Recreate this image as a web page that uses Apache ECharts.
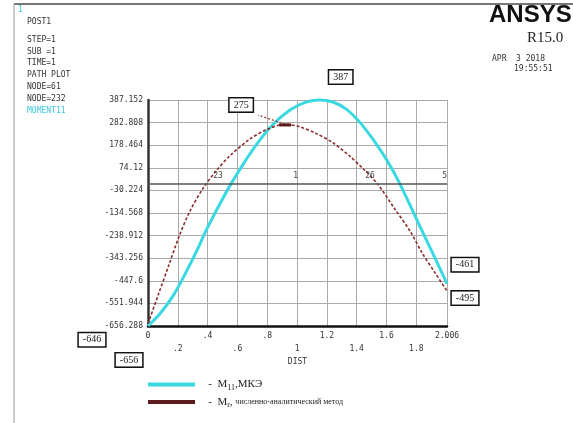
<!DOCTYPE html>
<html>
<head>
<meta charset="utf-8">
<script src="https://cdn.jsdelivr.net/npm/echarts@6/dist/echarts.min.js"></script>
<style>
  html, body { margin: 0; padding: 0; background: #fff; }
  #main { width: 573px; height: 423px; }
</style>
</head>
<body>
<div id="main"></div>
<script>
// M11, МКЭ (cyan)
var distMke = [0, 0.08, 0.17, 0.25, 0.33, 0.39, 0.48, 0.57, 0.70, 0.83, 0.95, 1.06, 1.15, 1.24, 1.33, 1.42, 1.51, 1.60, 1.69, 1.82, 1.91, 2.006];
var momMke = [-656, -600, -515, -415, -305, -215, -95, 15, 155, 268, 340, 377, 387, 378, 345, 285, 205, 112, 0, -190, -320, -461];

// Mr, численно-аналитический метод (brown)
var distAnal = [0, 0.07, 0.14, 0.21, 0.28, 0.37, 0.46, 0.55, 0.68, 0.80, 0.92, 1.02, 1.13, 1.24, 1.35, 1.45, 1.54, 1.65, 1.76, 1.84, 1.93, 2.006];
var momAnal = [-646, -510, -375, -240, -128, -20, 62, 130, 205, 252, 275, 263, 232, 190, 130, 65, 0, -110, -220, -320, -415, -495];

var yTicks = [-656.288, -551.944, -447.6, -343.256, -238.912, -134.568, -30.224, 74.12, 178.464, 282.808, 387.152];
var yTickLabels = ['-656.288', '-551.944', '-447.6', '-343.256', '-238.912', '-134.568', '-30.224', '74.12', '178.464', '282.808', '387.152'];
var xTicks = [0, 0.2, 0.4, 0.6, 0.8, 1.0, 1.2, 1.4, 1.6, 1.8, 2.006];
var xTickLabels = ['0', '.2', '.4', '.6', '.8', '1', '1.2', '1.4', '1.6', '1.8', '2.006'];

// path node numbers along the zero line
var nodeDist = [0.47, 0.99, 1.49, 1.99];
var nodeNames = ['23', '1', '26', '5'];

var infoLines = ['STEP=1', 'SUB =1', 'TIME=1', 'PATH PLOT', 'NODE=61', 'NODE=232'];

var mono = '"DejaVu Sans Mono", monospace';
var serif = '"Liberation Serif", "DejaVu Serif", serif';

var myChart = echarts.init(document.getElementById('main'));

function zip(xs, ys) {
  return xs.map(function (x, i) { return [x, ys[i]]; });
}

var boxLabel = {
  show: true,
  position: 'inside',
  formatter: '{b}',
  color: '#222',
  fontFamily: serif,
  fontSize: 10,
  backgroundColor: '#fff',
  borderColor: '#111',
  borderWidth: 1.5,
  padding: [2, 4, 1, 4]
};

function box(coord, text, off) {
  return {
    name: text,
    coord: coord,
    symbol: 'circle',
    symbolSize: 0,
    label: Object.assign({}, boxLabel, { offset: off })
  };
}

var graphics = [
  { type: 'line', shape: { x1: 14, y1: 4, x2: 573, y2: 4 }, style: { stroke: '#777', lineWidth: 2 } },
  { type: 'line', shape: { x1: 14, y1: 4, x2: 14, y2: 423 }, style: { stroke: '#999', lineWidth: 1 } },
  { type: 'text', left: 18, top: 6, style: { text: '1', fill: '#3cc8e0', font: '8px ' + mono } },
  { type: 'text', left: 27, top: 18, style: { text: 'POST1', fill: '#333', font: '8px ' + mono } },
  { type: 'text', left: 489, top: 3, style: { text: 'ANSYS', fill: '#111', font: 'bold 24px "Liberation Sans", Arial, sans-serif' } },
  { type: 'text', left: 527, top: 31, style: { text: 'R15.0', fill: '#222', font: '15px ' + serif } },
  { type: 'text', left: 492, top: 55, style: { text: 'APR  3 2018', fill: '#333', font: '8px ' + mono } },
  { type: 'text', left: 514, top: 65, style: { text: '19:55:51', fill: '#333', font: '8px ' + mono } },
  { type: 'text', left: 27, top: 107, style: { text: 'MOMENT11', fill: '#3cc8e0', font: '8px ' + mono } }
];
infoLines.forEach(function (t, i) {
  graphics.push({ type: 'text', left: 27, top: 36 + i * 11.7, style: { text: t, fill: '#333', font: '8px ' + mono } });
});

var nodePoints = nodeDist.map(function (d, i) {
  return {
    name: nodeNames[i],
    coord: [d, 0],
    symbol: 'circle',
    symbolSize: 0,
    label: { show: true, position: 'inside', formatter: '{b}', offset: [0, -8], color: '#444', fontFamily: mono, fontSize: 8 }
  };
});

var option = {
  animation: false,
  backgroundColor: '#fff',
  graphic: graphics,
  grid: { left: 148, right: 126, top: 100, bottom: 97, containLabel: false },
  legend: {
    left: 143,
    top: 374,
    orient: 'vertical',
    icon: 'rect',
    itemWidth: 47,
    itemHeight: 4,
    itemGap: 5,
    selectedMode: false,
    data: ['M11,МКЭ', 'Mr, численно-аналитический метод'],
    formatter: function (name) {
      if (name === 'M11,МКЭ') return '{d|   -  }{n|M}{s|11}{n|,МКЭ}';
      return '{d|   -  }{n|M}{s|r}{n|, }{t|численно-аналитический метод}';
    },
    textStyle: {
      color: '#222',
      rich: {
        d: { fontFamily: serif, fontSize: 11, color: '#222' },
        n: { fontFamily: serif, fontSize: 11, color: '#222', lineHeight: 14 },
        s: { fontFamily: serif, fontSize: 8, color: '#222', verticalAlign: 'bottom', padding: [6, 0, 0, 0] },
        t: { fontFamily: serif, fontSize: 8, color: '#222' }
      }
    }
  },
  xAxis: {
    type: 'value',
    min: 0,
    max: 2.006,
    name: 'DIST',
    nameLocation: 'middle',
    nameGap: 30,
    nameTextStyle: { fontFamily: mono, fontSize: 8, color: '#333' },
    axisLine: { show: true, onZero: false, lineStyle: { color: '#111', width: 2.5 } },
    axisTick: { show: false, customValues: xTicks },
    axisLabel: {
      customValues: xTicks,
      margin: 6,
      formatter: function (v) {
        var i = xTicks.indexOf(v);
        var lab = i >= 0 ? xTickLabels[i] : '';
        return i % 2 === 0 ? '{a|' + lab + '}' : '{b|' + lab + '}';
      },
      rich: {
        a: { fontFamily: mono, fontSize: 8, color: '#333' },
        b: { fontFamily: mono, fontSize: 8, color: '#333', padding: [13, 0, 0, 0] }
      }
    },
    splitLine: { show: true, lineStyle: { color: '#aaa', width: 1 } }
  },
  yAxis: {
    type: 'value',
    min: -656.288,
    max: 387.152,
    axisLine: { show: true, onZero: false, lineStyle: { color: '#333', width: 2.5 } },
    axisTick: { show: false, customValues: yTicks },
    axisLabel: {
      customValues: yTicks,
      margin: 5,
      fontFamily: mono,
      fontSize: 8,
      color: '#333',
      formatter: function (v) {
        var i = yTicks.indexOf(v);
        return i >= 0 ? yTickLabels[i] : '';
      }
    },
    splitLine: { show: true, lineStyle: { color: '#aaa', width: 1 } }
  },
  series: [
    {
      name: 'Mr, численно-аналитический метод',
      type: 'line',
      smooth: 0.3,
      clip: false,
      showSymbol: false,
      data: zip(distAnal, momAnal),
      itemStyle: { color: '#5e1c1c' },
      lineStyle: { color: '#8a2c2c', width: 1.6, type: [3, 2] },
      z: 3,
      markLine: {
        silent: true,
        symbol: ['none', 'none'],
        label: { show: false },
        lineStyle: { color: '#8a2c2c', width: 1.2, type: [2, 2] },
        data: [
          [{ coord: [0, -646] }, { coord: [-0.275, -721] }],
          [{ coord: [0.92, 275] }, { coord: [0.737, 318] }]
        ]
      },
      markPoint: {
        silent: true,
        data: [
          {
            name: '275',
            coord: [0.92, 272],
            symbol: 'rect',
            symbolSize: [12, 3],
            itemStyle: { color: '#5a1616' },
            label: Object.assign({}, boxLabel, { offset: [-44, -20] })
          },
          box([0, -646], '-646', [-56, 16]),
          box([2.006, -495], '-495', [18, 7])
        ]
      }
    },
    {
      name: 'M11,МКЭ',
      type: 'line',
      smooth: 0.3,
      clip: false,
      showSymbol: false,
      data: zip(distMke, momMke),
      itemStyle: { color: '#3ad8e0' },
      lineStyle: { color: '#3ad8e0', width: 3 },
      z: 2,
      markLine: {
        silent: true,
        symbol: ['none', 'none'],
        label: { show: false },
        data: [
          { yAxis: 0, lineStyle: { color: '#555', width: 1.5, type: 'solid' } },
          [{ coord: [0, -656], lineStyle: { color: '#3ad8e0', width: 1.2, type: [2, 2] } }, { coord: [-0.033, -767] }],
          [{ coord: [1.152, 387], lineStyle: { color: '#3ad8e0', width: 1.2, type: 'solid' } }, { coord: [1.239, 452] }]
        ]
      },
      markPoint: {
        silent: true,
        data: [
          box([1.152, 387], '387', [21, -23]),
          box([0, -656], '-656', [-19, 34]),
          box([2.006, -461], '-461', [18, -19])
        ].concat(nodePoints)
      }
    }
  ]
};

myChart.setOption(option);
</script>
</body>
</html>
